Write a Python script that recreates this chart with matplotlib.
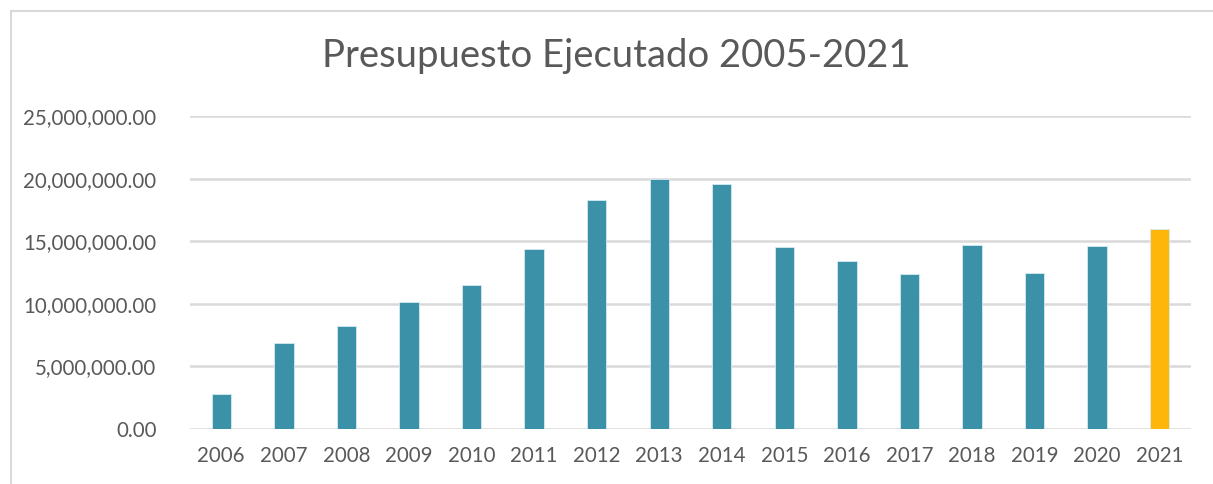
import numpy as np
import matplotlib
matplotlib.use('Agg')
import matplotlib.pyplot as plt
from matplotlib.ticker import FuncFormatter
from matplotlib.patches import Rectangle

years = ['2006', '2007', '2008', '2009', '2010', '2011', '2012', '2013',
         '2014', '2015', '2016', '2017', '2018', '2019', '2020', '2021']
budget = [2800000, 6850000, 8230000, 10130000, 11480000, 14380000, 18290000, 19960000,
          19570000, 14540000, 13420000, 12380000, 14700000, 12440000, 14620000, 15970000]
highlight_year = '2021'

plt.rcParams['font.family'] = ['Lato', 'DejaVu Sans']
text_color = '#595959'
grid_color = '#D9D9D9'

fig = plt.figure(figsize=(12.13, 4.84), dpi=100)
ax = fig.add_axes([0.1566, 0.1136, 0.8253, 0.6467])

colors = ['#FFB60A' if y == highlight_year else '#3A91A8' for y in years]
x = np.arange(len(years))
ax.bar(x, budget, width=0.31, color=colors, edgecolor='#d6eaf0', linewidth=0.6, zorder=3)

ax.set_xlim(-0.5, len(years) - 0.5)
ax.set_ylim(0, 25000000)
ax.set_yticks(np.arange(0, 25000001, 5000000))
ax.yaxis.set_major_formatter(FuncFormatter(lambda v, p: f'{v:,.2f}'))
ax.set_xticks(x)
ax.set_xticklabels(years)

ax.grid(axis='y', color=grid_color, linewidth=1.8, zorder=0)
for s in ax.spines.values():
    s.set_visible(False)
ax.tick_params(axis='both', length=0, labelsize=14.8, colors=text_color)
ax.tick_params(axis='y', pad=24)
ax.tick_params(axis='x', pad=12)

fig.text(0.508, 0.885, 'Presupuesto Ejecutado 2005-2021', ha='center', va='center',
         fontsize=27.5, color=text_color)

# outer chart frame
fig.patches.append(Rectangle((11 / 1213, -0.1), 1.2, 1 - 11 / 484 + 0.1,
                             transform=fig.transFigure, fill=False,
                             edgecolor='#D9D9D9', linewidth=1.5))

fig.savefig('out.png', dpi=100)
